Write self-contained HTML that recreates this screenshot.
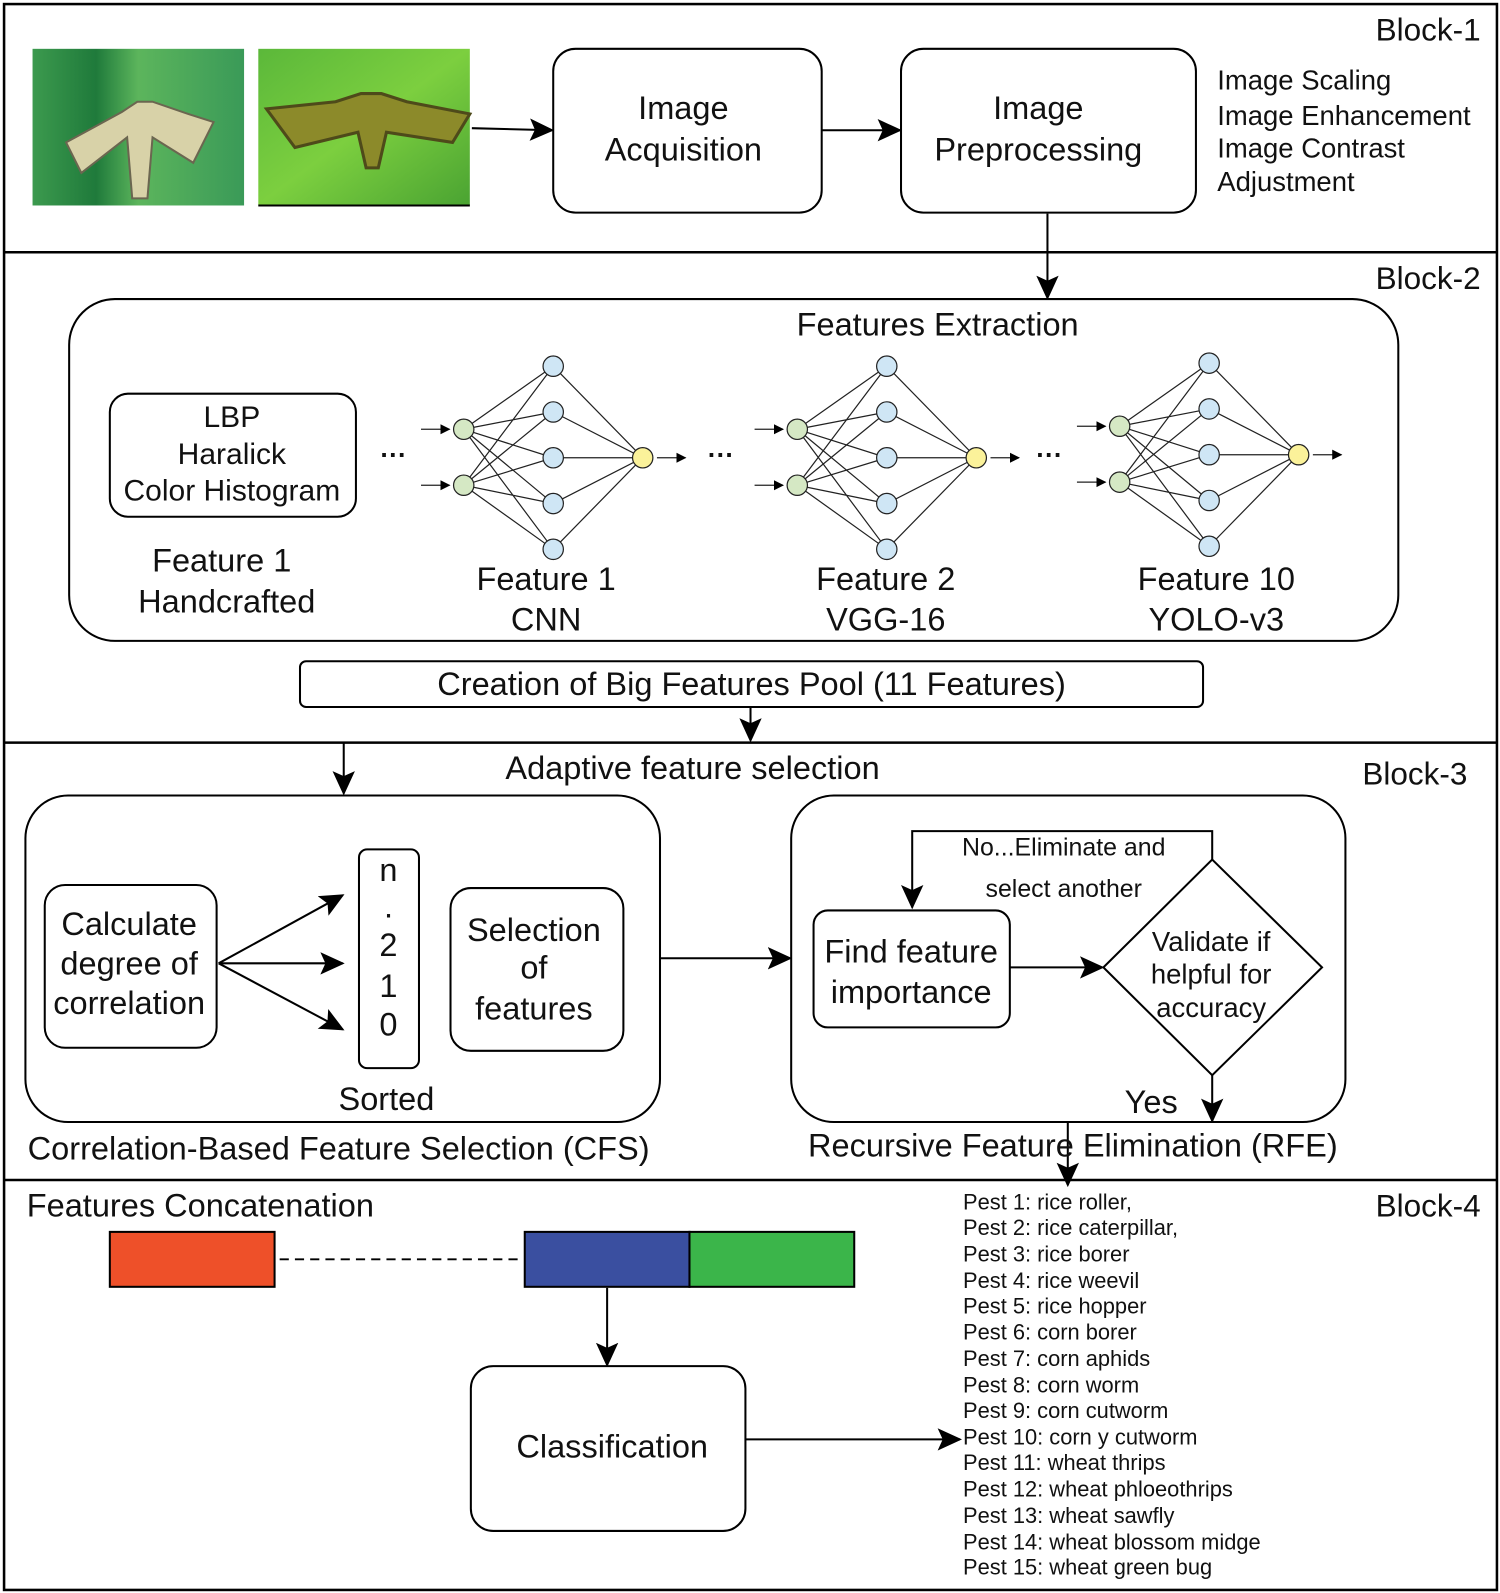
<!DOCTYPE html>
<html><head><meta charset="utf-8"><style>
html,body{margin:0;padding:0;background:#fff}
svg{display:block}
text{font-family:"Liberation Sans",Arial,sans-serif;fill:#111}
</style></head><body>
<svg width="1500" height="1593" viewBox="0 0 1475 1566" preserveAspectRatio="none" xmlns="http://www.w3.org/2000/svg">
<defs>
<marker id="ah" markerWidth="10" markerHeight="10" refX="9" refY="5" orient="auto" markerUnits="userSpaceOnUse" viewBox="0 0 10 10"><path d="M0,0 L10,5 L0,10 Z" fill="#000"/></marker>
<marker id="ah2" markerWidth="24" markerHeight="22" refX="22" refY="11" orient="auto" markerUnits="userSpaceOnUse" viewBox="0 0 24 22"><path d="M0,0 L24,11 L0,22 L5,11 Z" fill="#000"/></marker>
<linearGradient id="g1" x1="0" x2="1"><stop offset="0" stop-color="#3c9a4e"/><stop offset=".3" stop-color="#1f7a3b"/><stop offset=".5" stop-color="#5cb55c"/><stop offset="1" stop-color="#3a9a58"/></linearGradient>
<linearGradient id="g2" x1="0" x2="1" y1="0" y2="1"><stop offset="0" stop-color="#5bb83a"/><stop offset=".5" stop-color="#7ccf3f"/><stop offset="1" stop-color="#4aa332"/></linearGradient>
<g id="net" stroke="#222" stroke-width="1.2" fill="none">
<path d="M0,-28 L88,-90 M0,-28 L88,-45 M0,-28 L88,0 M0,-28 L88,45 M0,-28 L88,90 M0,27 L88,-90 M0,27 L88,-45 M0,27 L88,0 M0,27 L88,45 M0,27 L88,90 M88,-90 L176,0 M88,-45 L176,0 M88,0 L176,0 M88,45 L176,0 M88,90 L176,0"/>
<line x1="-42" y1="-28" x2="-14" y2="-28" marker-end="url(#ah)"/>
<line x1="-42" y1="27" x2="-14" y2="27" marker-end="url(#ah)"/>
<line x1="190" y1="0" x2="218" y2="0" marker-end="url(#ah)"/>
<circle cx="0" cy="-28" r="10" fill="#d5e8c4"/><circle cx="0" cy="27" r="10" fill="#d5e8c4"/>
<circle cx="88" cy="-90" r="10" fill="#cfe6f5"/><circle cx="88" cy="-45" r="10" fill="#cfe6f5"/><circle cx="88" cy="0" r="10" fill="#cfe6f5"/><circle cx="88" cy="45" r="10" fill="#cfe6f5"/><circle cx="88" cy="90" r="10" fill="#cfe6f5"/>
<circle cx="176" cy="0" r="10" fill="#fbf29a"/>
</g>
</defs>
<g stroke="#000" stroke-width="2.5" fill="none">
<rect x="4" y="4" width="1468" height="1559"/>
<line x1="4" y1="248" x2="1472" y2="248"/>
<line x1="4" y1="730" x2="1472" y2="730"/>
<line x1="4" y1="1160" x2="1472" y2="1160"/>
</g>
<rect x="32" y="48" width="208" height="154" fill="url(#g1)"/>
<path d="M65,140 L120,110 L135,100 L150,100 L185,112 L210,120 L190,160 L150,135 L145,195 L130,195 L125,135 L80,170 Z" fill="#d8d2a8" stroke="#6b6650" stroke-width="2"/>
<rect x="254" y="48" width="208" height="154" fill="url(#g2)"/>
<path d="M262,107 L330,100 L355,92 L375,92 L400,100 L462,112 L445,140 L380,130 L372,165 L360,165 L352,130 L290,145 Z" fill="#8c8a2a" stroke="#4e4a1a" stroke-width="3"/>
<line x1="254" y1="202" x2="462" y2="202" stroke="#000" stroke-width="2"/>
<g stroke="#000" stroke-width="2" fill="none">
<line x1="464" y1="126" x2="543" y2="128" marker-end="url(#ah2)"/>
<rect x="544" y="48" width="264" height="161" rx="22"/>
<line x1="808" y1="128" x2="885" y2="128" marker-end="url(#ah2)"/>
<rect x="886" y="48" width="290" height="161" rx="22"/>
<line x1="1030" y1="210" x2="1030" y2="293" marker-end="url(#ah2)"/>
<rect x="68" y="294" width="1307" height="336" rx="45"/>
<rect x="108" y="387" width="242" height="121" rx="18"/>
<rect x="295" y="650" width="888" height="45" rx="6"/>
<line x1="738" y1="695" x2="738" y2="728" marker-end="url(#ah2)"/>
<line x1="338" y1="730" x2="338" y2="780" marker-end="url(#ah2)"/>
<rect x="25" y="782" width="624" height="321" rx="42"/>
<rect x="44" y="870" width="169" height="160" rx="20"/>
<line x1="215" y1="947" x2="337" y2="880" marker-end="url(#ah2)"/>
<line x1="215" y1="947" x2="337" y2="947" marker-end="url(#ah2)"/>
<line x1="215" y1="947" x2="337" y2="1012" marker-end="url(#ah2)"/>
<rect x="353" y="835" width="59" height="215" rx="8"/>
<rect x="443" y="873" width="170" height="160" rx="20"/>
<line x1="650" y1="942" x2="777" y2="942" marker-end="url(#ah2)"/>
<rect x="778" y="782" width="545" height="321" rx="42"/>
<rect x="800" y="895" width="193" height="115" rx="14"/>
<line x1="993" y1="951" x2="1084" y2="951" marker-end="url(#ah2)"/>
<polygon points="1192,845 1300,951 1192,1057 1085,951"/>
<polyline points="1192,845 1192,817 897,817 897,892" marker-end="url(#ah2)"/>
<line x1="1192" y1="1057" x2="1192" y2="1102" marker-end="url(#ah2)"/>
<line x1="1050" y1="1103" x2="1050" y2="1165" marker-end="url(#ah2)"/>
<line x1="597" y1="1266" x2="597" y2="1342" marker-end="url(#ah2)"/>
<rect x="463" y="1343" width="270" height="162" rx="22"/>
<line x1="733" y1="1415" x2="944" y2="1415" marker-end="url(#ah2)"/>
<line x1="275" y1="1238" x2="512" y2="1238" stroke-dasharray="9,6" stroke-width="1.8"/>
</g>
<rect x="108" y="1211" width="162" height="54" fill="#ee5029" stroke="#000" stroke-width="2"/>
<rect x="516" y="1211" width="162" height="54" fill="#3a4fa0" stroke="#000" stroke-width="2"/>
<rect x="678" y="1211" width="162" height="54" fill="#3bb54a" stroke="#000" stroke-width="2"/>
<use href="#net" transform="translate(456,450)"/>
<use href="#net" transform="translate(784,450)"/>
<use href="#net" transform="translate(1101,447)"/>
<g font-size="26" font-weight="bold"><text x="374" y="456">···</text><text x="696" y="456">···</text><text x="1019" y="456">···</text></g>
<g font-size="31">
<text x="1456" y="40" text-anchor="end">Block-1</text>
<text x="1456" y="284" text-anchor="end">Block-2</text>
<text x="1443" y="771" text-anchor="end">Block-3</text>
<text x="1456" y="1196" text-anchor="end">Block-4</text>
</g>
<g font-size="32" text-anchor="middle">
<text x="672" y="117">Image</text><text x="672" y="158">Acquisition</text>
<text x="1021" y="117">Image</text><text x="1021" y="158">Preprocessing</text>
<text x="602" y="1433">Classification</text>
</g>
<g font-size="27">
<text x="1197" y="88">Image Scaling</text>
<text x="1197" y="123">Image Enhancement</text>
<text x="1197" y="155">Image Contrast</text>
<text x="1197" y="188">Adjustment</text>
</g>
<g font-size="29.5" text-anchor="middle">
<text x="228" y="420">LBP</text><text x="228" y="456">Haralick</text><text x="228" y="492">Color Histogram</text>
</g>
<g font-size="32" text-anchor="middle">
<text x="922" y="330">Features Extraction</text>
<text x="218" y="562">Feature 1</text><text x="223" y="602">Handcrafted</text>
<text x="537" y="580">Feature 1</text><text x="537" y="620">CNN</text>
<text x="871" y="580">Feature 2</text><text x="871" y="620">VGG-16</text>
<text x="1196" y="580">Feature 10</text><text x="1196" y="620">YOLO-v3</text>
<text x="739" y="683">Creation of Big Features Pool (11 Features)</text>
<text x="681" y="766">Adaptive feature selection</text>
<text x="127" y="919">Calculate</text><text x="127" y="958">degree of</text><text x="127" y="997">correlation</text>
<text x="382" y="866">n</text><text x="382" y="902">.</text><text x="382" y="940">2</text><text x="382" y="980">1</text><text x="382" y="1018">0</text>
<text x="525" y="925">Selection</text><text x="525" y="962">of</text><text x="525" y="1002">features</text>
<text x="380" y="1091">Sorted</text>
<text x="333" y="1140">Correlation-Based Feature Selection (CFS)</text>
<text x="896" y="946">Find feature</text><text x="896" y="986">importance</text>
<text x="1132" y="1094">Yes</text>
<text x="1055" y="1137">Recursive Feature Elimination (RFE)</text>
</g>
<text x="197" y="1196" font-size="32" text-anchor="middle">Features Concatenation</text>
<g font-size="24.5" text-anchor="middle">
<text x="1046" y="841">No...Eliminate and</text><text x="1046" y="882">select another</text>
</g>
<g font-size="27" text-anchor="middle">
<text x="1191" y="935">Validate if</text><text x="1191" y="967">helpful for</text><text x="1191" y="1000">accuracy</text>
</g>
<g font-size="21.5">
<text x="947" y="1189">Pest 1: rice roller,</text>
<text x="947" y="1214">Pest 2: rice caterpillar,</text>
<text x="947" y="1240">Pest 3: rice borer</text>
<text x="947" y="1266">Pest 4: rice weevil</text>
<text x="947" y="1291">Pest 5: rice hopper</text>
<text x="947" y="1317">Pest 6: corn borer</text>
<text x="947" y="1343">Pest 7: corn aphids</text>
<text x="947" y="1369">Pest 8: corn worm</text>
<text x="947" y="1394">Pest 9: corn cutworm</text>
<text x="947" y="1420">Pest 10: corn y cutworm</text>
<text x="947" y="1445">Pest 11: wheat thrips</text>
<text x="947" y="1471">Pest 12: wheat phloeothrips</text>
<text x="947" y="1497">Pest 13: wheat sawfly</text>
<text x="947" y="1523">Pest 14: wheat blossom midge</text>
<text x="947" y="1548">Pest 15: wheat green bug</text>
</g>
</svg>
</body></html>
